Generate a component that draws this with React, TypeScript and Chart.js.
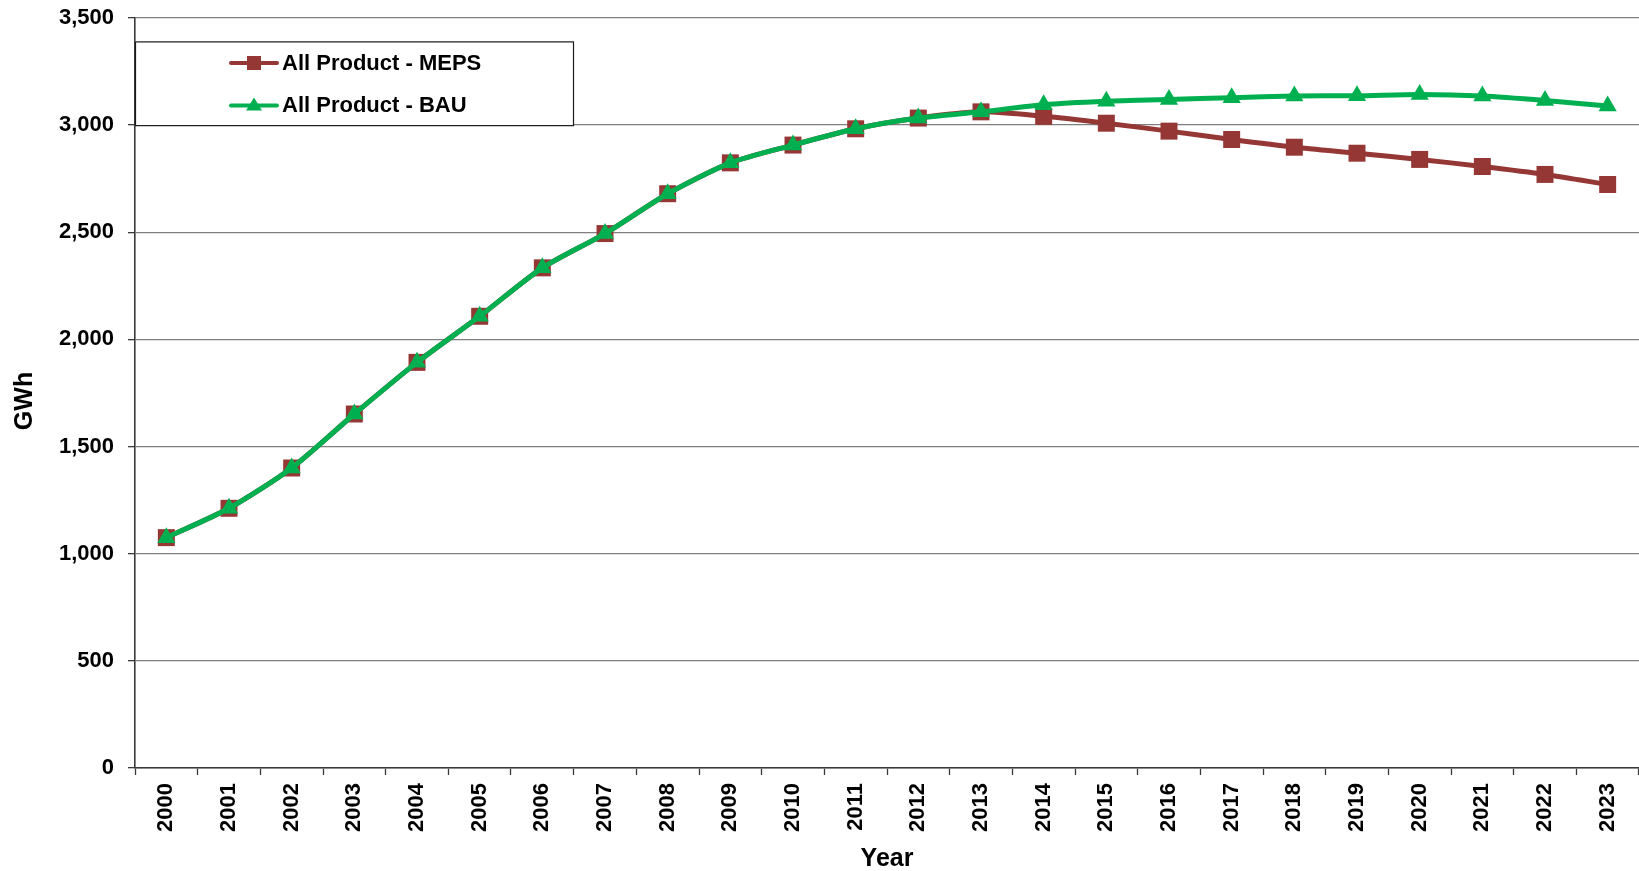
import React, { useEffect, useRef } from "react";
import { Chart, registerables } from "chart.js";

Chart.register(...registerables);

const years: string[] = [
  "2000", "2001", "2002", "2003", "2004", "2005", "2006", "2007", "2008", "2009", "2010", "2011",
  "2012", "2013", "2014", "2015", "2016", "2017", "2018", "2019", "2020", "2021", "2022", "2023",
];

const mepsValues: number[] = [
  1075, 1212, 1400, 1652, 1893, 2108, 2334, 2494, 2680, 2824, 2907, 2983,
  3033, 3062, 3041, 3009, 2972, 2933, 2897, 2869, 2840, 2807, 2770, 2723,
];

const bauValues: number[] = [
  1075, 1212, 1400, 1652, 1893, 2108, 2334, 2494, 2680, 2824, 2907, 2983,
  3033, 3062, 3095, 3111, 3120, 3128, 3136, 3137, 3143, 3136, 3115, 3089,
];

const seriesNames: string[] = ["All Product - MEPS", "All Product - BAU"];
const yTicks: number[] = [0, 500, 1000, 1500, 2000, 2500, 3000, 3500];
const yTitle = "GWh";
const xTitle = "Year";

const MEPS_COLOR = "#953735";
const BAU_COLOR = "#00B050";
const FONT = "'Liberation Sans', Arial, Helvetica, sans-serif";

const boxLegend = {
  id: "boxLegend",
  afterDraw(chart: any) {
    const ctx = chart.ctx as CanvasRenderingContext2D;
    const area = chart.chartArea;
    const x0 = area.left;
    const y1 = chart.scales.y.getPixelForValue(3000);
    const y0 = area.top + 23.4;
    const x1 = x0 + 439;
    ctx.save();
    ctx.fillStyle = "#ffffff";
    ctx.fillRect(x0, y0, x1 - x0, y1 - y0);
    ctx.strokeStyle = "#1a1a1a";
    ctx.lineWidth = 1.2;
    ctx.strokeRect(x0 + 0.5, y0 + 0.5, x1 - x0 - 1, y1 - y0);

    const rows = [y0 + 21.6, y0 + 64];
    const colors = [MEPS_COLOR, BAU_COLOR];
    for (let i = 0; i < 2; i++) {
      const cy = rows[i];
      ctx.strokeStyle = colors[i];
      ctx.lineWidth = 4;
      ctx.lineCap = "round";
      ctx.beginPath();
      ctx.moveTo(x0 + 96, cy);
      ctx.lineTo(x0 + 142, cy);
      ctx.stroke();
      ctx.fillStyle = colors[i];
      const mx = x0 + 119;
      if (i === 0) {
        ctx.fillRect(mx - 7, cy - 7, 14, 14);
      } else {
        ctx.beginPath();
        ctx.moveTo(mx, cy - 8);
        ctx.lineTo(mx + 8, cy + 5);
        ctx.lineTo(mx - 8, cy + 5);
        ctx.closePath();
        ctx.fill();
      }
      ctx.fillStyle = "#000000";
      ctx.font = `bold 22px ${FONT}`;
      ctx.textAlign = "left";
      ctx.textBaseline = "middle";
      ctx.fillText(seriesNames[i], x0 + 147, cy + 1);
    }

    // y axis title
    ctx.translate(25, 401);
    ctx.rotate(-Math.PI / 2);
    ctx.fillStyle = "#000000";
    ctx.font = `bold 25px ${FONT}`;
    ctx.textAlign = "center";
    ctx.textBaseline = "middle";
    ctx.fillText(yTitle, 0, 0);
    ctx.restore();
  },
};

export default function App() {
  const canvasRef = useRef<HTMLCanvasElement | null>(null);

  useEffect(() => {
    document.body.style.margin = "0";
    const canvas = canvasRef.current;
    if (!canvas) return;
    const chart = new Chart(canvas, {
      type: "line",
      data: {
        labels: years,
        datasets: [
          {
            label: seriesNames[0],
            data: mepsValues,
            borderColor: MEPS_COLOR,
            backgroundColor: MEPS_COLOR,
            borderWidth: 5,
            pointStyle: "rect",
            pointRadius: 12,
            pointBorderWidth: 0,
            pointBackgroundColor: MEPS_COLOR,
            tension: 0.25,
            order: 2,
          },
          {
            label: seriesNames[1],
            data: bauValues,
            borderColor: BAU_COLOR,
            backgroundColor: BAU_COLOR,
            borderWidth: 5,
            pointStyle: "triangle",
            pointRadius: 10.5,
            pointBorderWidth: 0,
            pointBackgroundColor: BAU_COLOR,
            tension: 0.25,
            order: 1,
          },
        ],
      },
      options: {
        animation: false,
        responsive: true,
        maintainAspectRatio: false,
        layout: { autoPadding: false, padding: { top: 18, right: 0, bottom: 0, left: 0 } },
        plugins: {
          legend: { display: false },
          tooltip: { enabled: false },
        },
        scales: {
          x: {
            type: "category",
            offset: true,
            afterFit(scale: any) {
              scale.height = 103;
              scale.paddingLeft = 0;
              scale.paddingRight = 0;
            },
            grid: {
              display: true,
              drawOnChartArea: false,
              drawTicks: true,
              tickLength: 7,
              offset: true,
              tickColor: "#3a3a3a",
              tickWidth: 1.3,
            },
            border: { display: true, color: "#3a3a3a", width: 1.6 },
            ticks: {
              minRotation: 90,
              maxRotation: 90,
              autoSkip: false,
              padding: 8,
              color: "#000000",
              font: { family: FONT, size: 22, weight: "bold" },
            },
            title: {
              display: true,
              text: xTitle,
              color: "#000000",
              padding: { top: 0, bottom: -3 },
              font: { family: FONT, size: 25, weight: "bold" },
            },
          },
          y: {
            min: 0,
            max: 3500,
            afterFit(scale: any) {
              scale.width = 135;
              scale.paddingTop = 0;
              scale.paddingBottom = 0;
            },
            afterBuildTicks(scale: any) {
              scale.ticks = yTicks.map((v) => ({ value: v }));
            },
            grid: {
              color: "#7f7f7f",
              lineWidth: 1.3,
              drawTicks: true,
              tickLength: 7,
              tickColor: "#3a3a3a",
              tickWidth: 1.3,
            },
            border: { display: true, color: "#3a3a3a", width: 1.6 },
            ticks: {
              stepSize: 500,
              padding: 14,
              color: "#000000",
              font: { family: FONT, size: 22, weight: "bold" },
              callback: (v: any) => Number(v).toLocaleString("en-US"),
            },
            title: { display: false },
          },
        },
      },
      plugins: [boxLegend],
    });
    return () => chart.destroy();
  }, []);

  return (
    <div style={{ position: "fixed", left: 0, top: 0, width: 1639, height: 871, background: "#ffffff" }}>
      <canvas ref={canvasRef} />
    </div>
  );
}
